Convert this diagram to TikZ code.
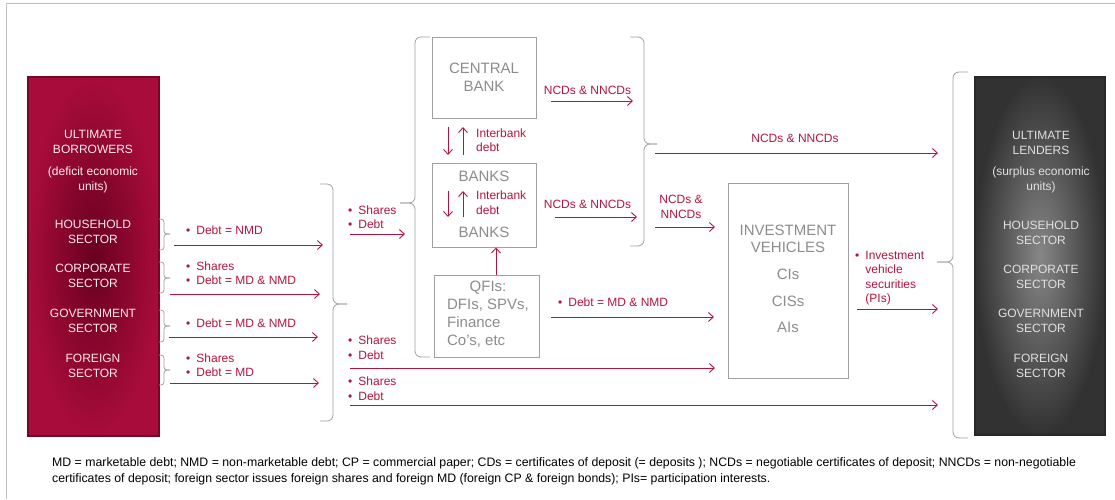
\documentclass[tikz,border=0pt]{standalone}
\usepackage{fontspec}
\setmainfont{Liberation Sans}
\usetikzlibrary{arrows.meta}
\definecolor{mred}{RGB}{180,20,60}
\definecolor{bxline}{RGB}{160,160,160}
\definecolor{bxtext}{RGB}{140,140,140}
\definecolor{brin}{RGB}{105,0,32}
\definecolor{brout}{RGB}{168,12,58}
\definecolor{bredge}{RGB}{120,5,40}
\definecolor{lnin}{RGB}{135,135,135}
\definecolor{lnout}{RGB}{50,50,50}
\definecolor{lnedge}{RGB}{40,40,40}
\newcommand\mybrace[7][5]{%
  \draw[brcs,rounded corners=#1pt] (#2,#5) -| (#3,#6) -- (#4,#6);
  \draw[brcs,rounded corners=#1pt] (#2,#7) -| (#3,#6) -- (#4,#6);}
\newcommand\bt[1]{\begin{tabular}{@{}l@{\hspace{6pt}}l@{}}#1\end{tabular}}
\begin{document}
\begin{tikzpicture}[x=1pt,y=-1pt,
  brcs/.style={draw=bxline,line width=0.8pt},
  arr/.style={draw=mred,line width=0.9pt,-{Straight Barb[length=5pt,width=9pt]}},
  lab/.style={font=\fontsize{12}{14.5}\selectfont,text=mred,inner sep=0pt},
  blab/.style={lab,anchor=west,yshift=-1.5pt},
  whitetxt/.style={font=\fontsize{12}{15}\selectfont,text=white!92!red,align=center,inner sep=0pt},
  graytxt/.style={font=\fontsize{12}{15}\selectfont,text=white!88!black,align=center,inner sep=0pt},
  gbox/.style={draw=bxline,line width=0.9pt,inner sep=0pt},
  gtxt/.style={font=\fontsize{15}{18}\selectfont,text=bxtext,align=center,inner sep=0pt},
  foot/.style={font=\fontsize{12.3}{15}\selectfont,text=black,inner sep=0pt,anchor=west}]
\useasboundingbox (0,0) rectangle (1115,499);
% frame
\draw[draw=black!25,line width=0.8pt] (6,499) -- (6,3) -- (1115,3);

% ultimate borrowers
\node[minimum width=131pt,minimum height=359pt,inner sep=0pt,shading=radial,inner color=brin,outer color=brout,draw=bredge,line width=1.2pt] (borrow) at (93.5,256.5) {};
\node[whitetxt] (bt1) at (93,142) {ULTIMATE\\BORROWERS};
\node[whitetxt] (bt2) at (93,180) {(deficit economic\\units)};
\node[whitetxt] (bh) at (93,231.5) {HOUSEHOLD\\SECTOR};
\node[whitetxt] (bc) at (93,275.5) {CORPORATE\\SECTOR};
\node[whitetxt] (bg) at (93,320.5) {GOVERNMENT\\SECTOR};
\node[whitetxt] (bf) at (93,365.5) {FOREIGN\\SECTOR};

% ultimate lenders
\node[minimum width=130pt,minimum height=358pt,inner sep=0pt,shading=radial,inner color=lnin,outer color=lnout,draw=lnedge,line width=1.2pt] (lend) at (1040,256) {};
\node[graytxt] (lt1) at (1041,142.5) {ULTIMATE\\LENDERS};
\node[graytxt] (lt2) at (1041,180) {(surplus economic\\units)};
\node[graytxt] (lh) at (1041,232.5) {HOUSEHOLD\\SECTOR};
\node[graytxt] (lc) at (1041,276.5) {CORPORATE\\SECTOR};
\node[graytxt] (lg) at (1041,320.5) {GOVERNMENT\\SECTOR};
\node[graytxt] (lf) at (1041,366) {FOREIGN\\SECTOR};

% sector braces
\mybrace[3]{159}{164}{170}{219}{234}{250}
\mybrace[3]{159}{164}{170}{262}{278}{293}
\mybrace[3]{159}{164}{170}{310}{326}{342}
\mybrace[3]{159}{164}{170}{355}{370}{385}
% big braces
\mybrace[6]{320}{333}{347}{184}{304}{421}
\mybrace[6]{430}{415}{400}{37}{203}{357}
\mybrace[6]{630}{644}{657}{37}{144}{246}
\mybrace[6]{968}{953}{937}{72}{262}{438}

% sector labels and arrows
\node[blab] (l1) at (186,230) {\bt{•&Debt = NMD}};
\node[blab] (l2) at (186,273) {\bt{•&Shares\\•&Debt = MD \& NMD}};
\node[blab] (l3) at (186,323) {\bt{•&Debt = MD \& NMD}};
\node[blab] (l4) at (186,365) {\bt{•&Shares\\•&Debt = MD}};
\coordinate (a1s) at (174,245); \coordinate (a1e) at (323,245);
\coordinate (a2s) at (170,294); \coordinate (a2e) at (320,294);
\coordinate (a3s) at (169,337); \coordinate (a3e) at (318,337);
\coordinate (a4s) at (170,383); \coordinate (a4e) at (319,383);
\draw[arr] (a1s) -- (a1e);
\draw[arr] (a2s) -- (a2e);
\draw[arr] (a3s) -- (a3e);
\draw[arr] (a4s) -- (a4e);

% big brace outputs
\node[blab] (m1) at (348,217) {\bt{•&Shares\\•&Debt}};
\node[blab] (m2) at (348,347.5) {\bt{•&Shares\\•&Debt}};
\node[blab] (m3) at (348,388.5) {\bt{•&Shares\\•&Debt}};
\coordinate (b1s) at (350,234); \coordinate (b1e) at (405,234);
\coordinate (b2s) at (350,368); \coordinate (b2e) at (715,368);
\coordinate (b3s) at (350,405); \coordinate (b3e) at (938,405);
\draw[arr] (b1s) -- (b1e);
\draw[arr] (b2s) -- (b2e);
\draw[arr] (b3s) -- (b3e);

% central bank, banks, QFIs
\node[gbox,minimum width=104pt,minimum height=81pt] (cb) at (484,77.5) {};
\node[gtxt] (cbt) at (484,77) {CENTRAL\\BANK};
\node[gbox,minimum width=104pt,minimum height=84pt] (banks) at (484,205) {};
\node[gtxt] (bk1) at (484,176) {BANKS};
\node[gtxt] (bk2) at (484,232) {BANKS};
\node[gbox,minimum width=105pt,minimum height=82pt] (qfi) at (486.5,316) {};
\node[gtxt] (qfit) at (488,315) {\begin{tabular}{@{}l@{}}\multicolumn{1}{@{}c@{}}{QFIs:}\\DFIs, SPVs,\\Finance\\Co's, etc\end{tabular}};

% interbank arrows
\coordinate (i1a) at (448,127); \coordinate (i1b) at (448,155);
\coordinate (i2a) at (463,155); \coordinate (i2b) at (463,127);
\coordinate (i3a) at (448,191); \coordinate (i3b) at (448,217);
\coordinate (i4a) at (463,217); \coordinate (i4b) at (463,191);
\draw[arr] (i1a) -- (i1b);
\draw[arr] (i2a) -- (i2b);
\draw[arr] (i3a) -- (i3b);
\draw[arr] (i4a) -- (i4b);
\node[lab,anchor=west,align=left] (ib1) at (476,140) {Interbank\\debt};
\node[lab,anchor=west,align=left] (ib2) at (476,202.5) {Interbank\\debt};

% QFI to banks
\coordinate (qx) at (496,0);
\draw[arr] (qfi.north -| qx) -- (banks.south -| qx);

% NCD arrows
\node[lab] (n1) at (587.5,90) {NCDs \& NNCDs};
\node[lab] (n2) at (587.5,204) {NCDs \& NNCDs};
\coordinate (n1s) at (551,101); \coordinate (n1e) at (633,101);
\coordinate (n2s) at (555,217); \coordinate (n2e) at (637,217);
\draw[arr] (n1s) -- (n1e);
\draw[arr] (n2s) -- (n2e);
\node[lab] (n3) at (795,138) {NCDs \& NNCDs};
\coordinate (n3s) at (655,153); \coordinate (n3e) at (938,153);
\draw[arr] (n3s) -- (n3e);
\node[lab,align=center] (n4) at (681,207) {NCDs \&\\NNCDs};
\coordinate (n4s) at (655,227); \coordinate (n4e) at (715,227);
\draw[arr] (n4s) -- (n4e);

% QFI debt arrow
\node[blab] (qd) at (558,302) {\bt{•&Debt = MD \& NMD}};
\coordinate (qds) at (551,317); \coordinate (qde) at (714,317);
\draw[arr] (qds) -- (qde);

% investment vehicles
\node[gbox,minimum width=120pt,minimum height=195pt] (iv) at (788,280.5) {};
\node[gtxt,font=\fontsize{15}{17}\selectfont] (ivt) at (788,238.5) {INVESTMENT\\VEHICLES};
\node[gtxt] (ci) at (788,274) {CIs};
\node[gtxt] (cis) at (788,301) {CISs};
\node[gtxt] (ai) at (788,327) {AIs};

\node[blab] (pi) at (855,276.5) {\bt{•&Investment\\&vehicle\\&securities\\&(PIs)}};
\coordinate (ps) at (857,309); \coordinate (pe) at (938,309);
\draw[arr] (ps) -- (pe);

% footnote
\node[foot] (fn1) at (52,463) {MD = marketable debt; NMD = non-marketable debt; CP = commercial paper; CDs = certificates of deposit (= deposits ); NCDs = negotiable certificates of deposit; NNCDs = non-negotiable};
\node[foot] (fn2) at (52,479) {certificates of deposit; foreign sector issues foreign shares and foreign MD (foreign CP \& foreign bonds); PIs= participation interests.};
\end{tikzpicture}
\end{document}
